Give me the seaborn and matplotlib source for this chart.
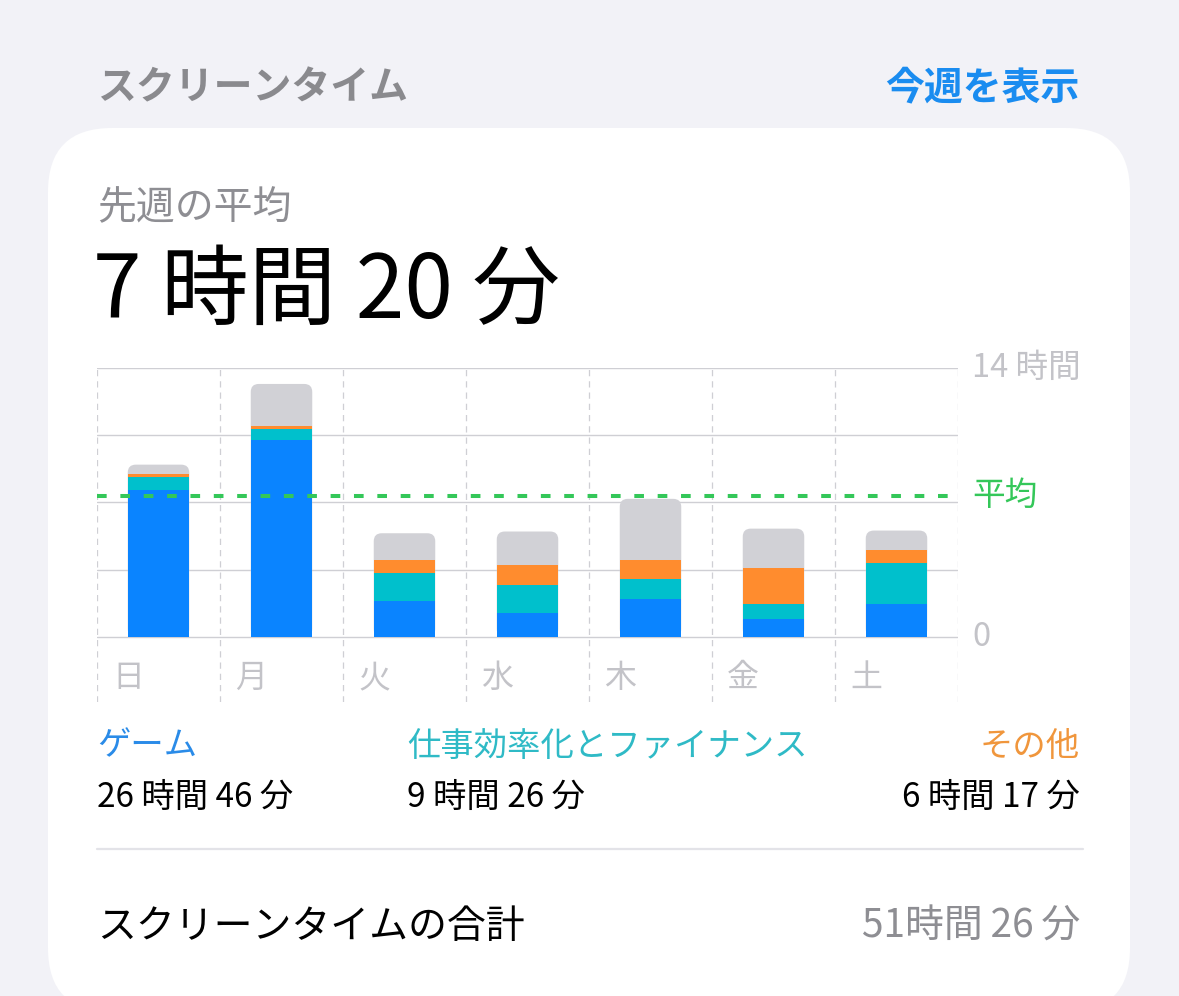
import numpy as np
import pandas as pd
import matplotlib.pyplot as plt
from matplotlib.patches import FancyBboxPatch
import seaborn as sns

# 曜日ごとの利用時間 (時間)
days = ['日', '月', '火', '水', '木', '金', '土']
game_hours = [7.67, 10.26, 1.87, 1.23, 1.96, 0.93, 1.71]
work_hours = [0.64, 0.56, 1.44, 1.47, 1.07, 0.77, 2.12]
other_hours = [0.17, 0.18, 0.72, 1.07, 0.99, 1.88, 0.69]
rest_hours = [0.49, 2.17, 1.37, 1.72, 3.17, 2.06, 1.02]
avg_hours = 7 + 20 / 60
grid_hours = [0, 3.5, 7, 10.5, 14]

legend_names = ['ゲーム', '仕事効率化とファイナンス', 'その他']
legend_totals = ['26 時間 46 分', '9 時間 26 分', '6 時間 17 分']
total_text = '51時間\u200926\u2009分'

sns.set_style('white')
plt.rcParams['font.family'] = ['Noto Sans CJK JP', 'DejaVu Sans']

c_game = '#0a84ff'
c_work = '#00c0cc'
c_other = '#ff8c2e'
c_rest = '#d1d1d6'
c_grid = '#cfcfd4'
c_label = '#c3c3c8'

df = pd.DataFrame({'day': days})
df['game'] = game_hours
df['work'] = df['game'] + np.array(work_hours)
df['other'] = df['work'] + np.array(other_hours)
df['total'] = df['other'] + np.array(rest_hours)

W, H = 1179, 996
fig = plt.figure(figsize=(W / 100, H / 100), dpi=100)
fig.patch.set_facecolor('#f2f2f7')

# 背景 (ピクセル座標)
bg = fig.add_axes([0, 0, 1, 1])
bg.set_xlim(0, W)
bg.set_ylim(H, 0)
bg.axis('off')
card = FancyBboxPatch((48, 128), 1082, 884, boxstyle='round,pad=0,rounding_size=64',
                      fc='white', ec='none')
bg.add_patch(card)

bg.text(97, 88, 'スクリーンタイム', fontsize=28, fontweight='bold', color='#8a8a8e', va='center')
bg.text(1080, 88, '今週を表示', fontsize=28, fontweight='bold', color='#1a8cf0', va='center', ha='right')
bg.text(97, 208, '先週の平均', fontsize=28, color='#8e8e93', va='center')
bg.text(93, 293, '7 時間 20 分', fontsize=63, color='black', va='center')

legend_x = [97, 407, 1080]
legend_ha = ['left', 'left', 'right']
legend_colors = ['#2a8be8', '#2fbac6', '#f0963c']
for name, tot, x, ha, c in zip(legend_names, legend_totals, legend_x, legend_ha, legend_colors):
    bg.text(x, 746, name, fontsize=24, color=c, va='center', ha=ha)
    bg.text(x, 797, tot, fontsize=24, color='black', va='center', ha=ha)

bg.plot([97, 1083], [849, 849], color='#e3e3e8', lw=1.6)
bg.text(97, 927, 'スクリーンタイムの合計', fontsize=28, color='black', va='center')
bg.text(1080, 927, total_text, fontsize=28, color='#8e8e93', va='center', ha='right')

# グラフ
px_per_hour = (637 - 368) / 14
y_bottom = -(702 - 637) / px_per_hour
ax = fig.add_axes([97 / W, 1 - 702 / H, 861 / W, (702 - 368) / H])
ax.set_facecolor('none')

bar_kw = dict(width=0.5, saturation=1, errorbar=None, ax=ax, zorder=2, linewidth=0)
sns.barplot(data=df, x='day', y='total', color=c_rest, **bar_kw)
# 上の角を丸める
col_px = 861 / 7
r = 8 / col_px
for p in list(ax.patches):
    x0, w, h = p.get_x(), p.get_width(), p.get_height()
    p.remove()
    ax.add_patch(FancyBboxPatch((x0, 0), w, h, boxstyle=f'round,pad=0,rounding_size={r}',
                                mutation_aspect=(8 / px_per_hour) / r, fc=c_rest, ec='none', zorder=2))
sns.barplot(data=df, x='day', y='other', color=c_other, **bar_kw)
sns.barplot(data=df, x='day', y='work', color=c_work, **bar_kw)
sns.barplot(data=df, x='day', y='game', color=c_game, **bar_kw)

ax.set_xlim(-0.5, len(days) - 0.5)
ax.set_ylim(y_bottom, 14)
for g in grid_hours:
    ax.axhline(g, color=c_grid, lw=1, zorder=0)
for i in range(len(days) + 1):
    ax.axvline(i - 0.5, color=c_grid, lw=0.9, ls=(0, (5, 4)), zorder=0)
ax.axhline(avg_hours, color='#34c759', lw=2.9, ls=(0, (2.4, 3.4)), zorder=3)

for i, d in enumerate(days):
    ax.text(i - 0.5 + 15 / col_px, (637 - 678) / px_per_hour, d, fontsize=23, color=c_label, va='center')
rx = len(days) - 0.5 + 14 / col_px
ax.text(rx, 14, '14 時間', fontsize=23.5, color=c_label, va='center')
ax.text(rx, 0, '0', fontsize=23.5, color=c_label, va='center')
ax.text(rx, avg_hours, '平均', fontsize=23.5, color='#34c759', va='center')

ax.set_xlabel('')
ax.set_ylabel('')
ax.set_xticks([])
ax.set_yticks([])
sns.despine(ax=ax, left=True, bottom=True)

fig.savefig('out.png', dpi=100, facecolor=fig.get_facecolor())
